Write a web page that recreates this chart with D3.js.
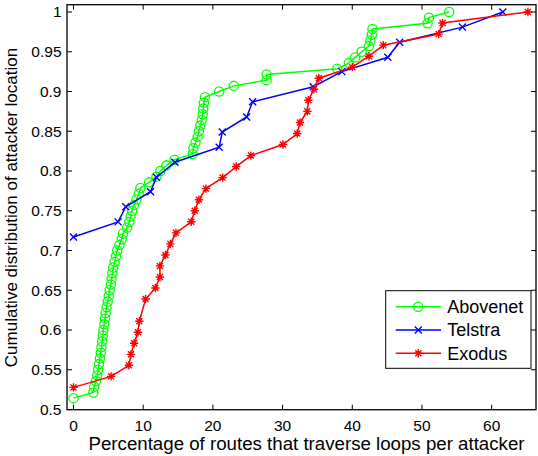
<!DOCTYPE html>
<html><head><meta charset="utf-8">
<script src="https://cdn.jsdelivr.net/npm/d3@7"></script>
<style>body{margin:0;background:#fff}svg{display:block}text{font-family:"Liberation Sans",Arial,sans-serif}</style>
</head><body><svg id="c" width="538" height="456"></svg>
<script>
const seriesNames = ["Abovenet","Telstra","Exodus"];
const xTicks = [0,10,20,30,40,50,60];
const yTicks = [0.5,0.55,0.6,0.65,0.7,0.75,0.8,0.85,0.9,0.95,1];
const yTickLabels = ["0.5","0.55","0.6","0.65","0.7","0.75","0.8","0.85","0.9","0.95","1"];

const abovenetX = [0,2.85,2.97,3.23,3.4,3.54,3.66,3.8,3.92,4.02,4.1,4.19,4.3,4.42,4.52,4.62,4.75,4.9,5.05,5.19,5.35,5.47,5.58,5.71,5.9,6.1,6.28,6.6,6.92,7.1,7.68,8.0,8.2,8.4,8.68,9.04,9.37,9.6,10.83,11.9,12.48,13.34,14.5,17.1,17.2,17.5,17.8,18.0,18.2,18.4,18.54,18.62,18.72,18.87,20.9,23.0,27.7,27.7,37.85,39.5,40.4,41.35,42.4,42.6,42.8,42.9,50.8,51.0,53.9];
const abovenetY = [0.5143,0.5214,0.5286,0.5357,0.5429,0.55,0.5571,0.5643,0.5714,0.5786,0.5857,0.5929,0.6,0.6071,0.6143,0.6214,0.6286,0.6357,0.6429,0.65,0.6571,0.6643,0.6714,0.6786,0.6857,0.6929,0.7,0.7071,0.7143,0.7214,0.7286,0.7357,0.7429,0.75,0.7571,0.7643,0.7714,0.7786,0.7857,0.7929,0.8,0.8071,0.8143,0.8214,0.8286,0.8357,0.8429,0.85,0.8571,0.8643,0.8714,0.8786,0.8857,0.8929,0.9,0.9071,0.9143,0.9214,0.9286,0.9357,0.9429,0.95,0.9571,0.9643,0.9714,0.9786,0.9857,0.9929,1.0];

const telstraX = [0,6.4,7.5,11.05,11.9,14.55,20.9,21.35,24.85,25.7,34.4,38.5,45.1,46.8,55.8,61.6];
const telstraY = [0.717,0.736,0.755,0.774,0.792,0.811,0.830,0.849,0.868,0.887,0.906,0.925,0.943,0.962,0.981,1.0];

const exodusX = [0,5.4,7.95,8.25,8.7,9.25,9.45,10.35,11.75,12.4,12.4,13.2,13.9,14.7,16.9,17.4,18.0,19.0,21.4,23.35,25.45,30.05,32.1,32.5,33.55,33.7,34.5,35.2,40.0,42.4,44.45,52.4,52.95,65.2];
const exodusY = [0.5278,0.5417,0.5556,0.5694,0.5833,0.5972,0.6111,0.6389,0.6528,0.6667,0.6806,0.6944,0.7083,0.7222,0.7361,0.75,0.7639,0.7778,0.7917,0.8056,0.8194,0.8333,0.8472,0.8611,0.875,0.8889,0.9028,0.9167,0.9306,0.9444,0.9583,0.9722,0.9861,1.0];

const colors = ["#00ff00","#0000ff","#ff0000"];
const markers = ["circle","x","star"];
const xLabel = "Percentage of routes that traverse loops per attacker";
const yLabel = "Cumulative distribution of attacker location";

const svg = d3.select("#c");
const L=67, R=536, T=4.7, B=409.7;
const x = d3.scaleLinear().domain([-0.93,66.36]).range([L,R]);
const y = d3.scaleLinear().domain([0.5,1]).range([409.5,12]);

const series = [
  {name:seriesNames[0], xs:abovenetX, ys:abovenetY, color:colors[0], marker:markers[0]},
  {name:seriesNames[1], xs:telstraX, ys:telstraY, color:colors[1], marker:markers[1]},
  {name:seriesNames[2], xs:exodusX, ys:exodusY, color:colors[2], marker:markers[2]}
];

function drawMarker(g, type, cx, cy, color){
  if(type==="circle"){
    g.append("circle").attr("cx",cx).attr("cy",cy).attr("r",4.6).attr("fill","none").attr("stroke",color).attr("stroke-width",1.3);
  } else if(type==="x"){
    const s=3.5;
    g.append("path").attr("d",`M${cx-s},${cy-s}L${cx+s},${cy+s}M${cx-s},${cy+s}L${cx+s},${cy-s}`).attr("stroke",color).attr("stroke-width",1.4).attr("fill","none");
  } else {
    const s=4.2, d=s*0.72;
    g.append("path").attr("d",`M${cx-s},${cy}L${cx+s},${cy}M${cx},${cy-s}L${cx},${cy+s}M${cx-d},${cy-d}L${cx+d},${cy+d}M${cx-d},${cy+d}L${cx+d},${cy-d}`).attr("stroke",color).attr("stroke-width",1.4).attr("fill","none");
  }
}

svg.append("rect").attr("x",L).attr("y",T).attr("width",R-L).attr("height",B-T).attr("fill","#fff").attr("stroke","none");

svg.append("defs").append("clipPath").attr("id","pc").append("rect").attr("x",L).attr("y",T).attr("width",R-L).attr("height",B-T);
const plot = svg.append("g").attr("clip-path","url(#pc)");

const line = d3.line().x(d=>x(d[0])).y(d=>y(d[1]));
series.forEach(s=>{
  const pts = s.xs.map((v,i)=>[v,s.ys[i]]);
  plot.append("path").datum(pts).attr("d",line).attr("fill","none").attr("stroke",s.color).attr("stroke-width",1.5);
  const mg = plot.append("g");
  pts.forEach(p=>drawMarker(mg,s.marker,x(p[0]),y(p[1]),s.color));
});

const tl=5;
const ax = svg.append("g");
xTicks.forEach(t=>{
  const px=x(t);
  ax.append("line").attr("x1",px).attr("x2",px).attr("y1",B).attr("y2",B-tl).attr("stroke","#000");
  ax.append("line").attr("x1",px).attr("x2",px).attr("y1",T).attr("y2",T+tl).attr("stroke","#000");
  ax.append("text").attr("x",px).attr("y",431).attr("text-anchor","middle").attr("font-size",15.5).text(t);
});
yTicks.forEach((t,i)=>{
  const py=y(t);
  ax.append("line").attr("x1",L).attr("x2",L+tl).attr("y1",py).attr("y2",py).attr("stroke","#000");
  ax.append("line").attr("x1",R).attr("x2",R-tl).attr("y1",py).attr("y2",py).attr("stroke","#000");
  ax.append("text").attr("x",61.5).attr("y",py+5.3).attr("text-anchor","end").attr("font-size",15.5).text(yTickLabels[i]);
});
svg.append("rect").attr("x",L).attr("y",T).attr("width",R-L).attr("height",B-T).attr("fill","none").attr("stroke","#000").attr("stroke-width",1.3);

svg.append("text").attr("x",306.5).attr("y",450).attr("text-anchor","middle").attr("font-size",17.5)
  .attr("textLength",436).attr("lengthAdjust","spacingAndGlyphs").text(xLabel);
svg.append("text").attr("transform","translate(17,207.5) rotate(-90)").attr("text-anchor","middle").attr("font-size",17).text(yLabel);

const lg = svg.append("g");
lg.append("rect").attr("x",385.7).attr("y",290.7).attr("width",145.3).attr("height",77.6).attr("fill","#fff").attr("stroke","#000").attr("stroke-width",1);
series.forEach((s,i)=>{
  const ly = 306.7 + i*23.3;
  lg.append("line").attr("x1",395.7).attr("x2",441).attr("y1",ly).attr("y2",ly).attr("stroke",s.color).attr("stroke-width",1.5);
  drawMarker(lg,s.marker,418.3,ly,s.color);
  lg.append("text").attr("x",447.3).attr("y",ly+6.3).attr("font-size",18).text(s.name);
});
</script></body></html>
